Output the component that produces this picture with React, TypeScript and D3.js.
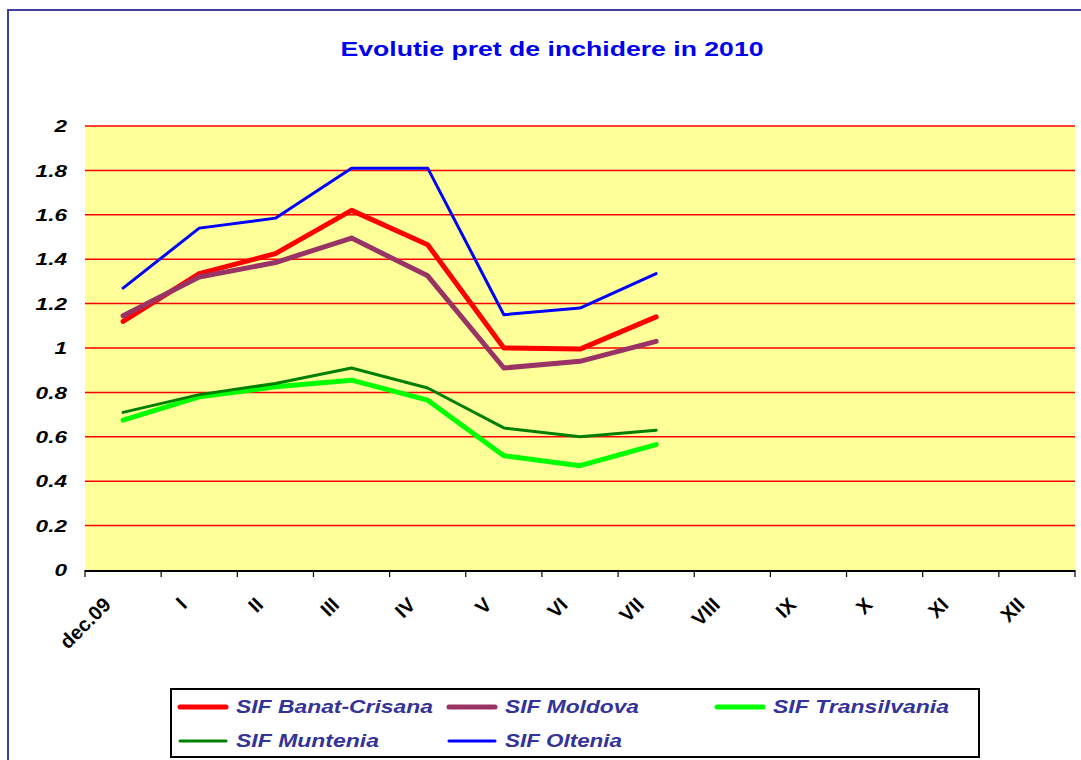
import * as d3 from "d3";
import { useEffect, useRef } from "react";

const months = ["dec.09", "I", "II", "III", "IV", "V", "VI", "VII", "VIII", "IX", "X", "XI", "XII"];
const yTicks = [0, 0.2, 0.4, 0.6, 0.8, 1, 1.2, 1.4, 1.6, 1.8, 2];

const banatCrisana = [1.12, 1.335, 1.425, 1.62, 1.465, 1.0, 0.995, 1.14, null, null, null, null, null];
const moldova = [1.145, 1.32, 1.385, 1.495, 1.325, 0.91, 0.94, 1.03, null, null, null, null, null];
const transilvania = [0.675, 0.78, 0.825, 0.855, 0.765, 0.515, 0.47, 0.565, null, null, null, null, null];
const muntenia = [0.71, 0.79, 0.84, 0.91, 0.82, 0.64, 0.60, 0.63, null, null, null, null, null];
const oltenia = [1.27, 1.54, 1.585, 1.81, 1.81, 1.15, 1.18, 1.335, null, null, null, null, null];

const series = [
    { name: "SIF Banat-Crisana", values: banatCrisana, color: "#ff0000", width: 5, textW: 197 },
    { name: "SIF Moldova", values: moldova, color: "#993366", width: 5, textW: 134 },
    { name: "SIF Transilvania", values: transilvania, color: "#00ff00", width: 5, textW: 176 },
    { name: "SIF Muntenia", values: muntenia, color: "#008000", width: 3, textW: 143 },
    { name: "SIF Oltenia", values: oltenia, color: "#0000ff", width: 3, textW: 117 },
];

export default function App() {
    const ref = useRef<SVGSVGElement>(null);

    useEffect(() => {
        const svg = d3.select(ref.current);
        svg.selectAll("*").remove();

        const width = 1081, height = 760;
        const left = 85, right = 1075, top = 126, bottom = 570;
        const font = "'Liberation Sans', Arial, sans-serif";
        const stretch = 1.33; // the whole picture is widened horizontally

        // frame
        svg.append("rect").attr("width", width).attr("height", height).attr("fill", "#fff");
        svg.append("rect")
            .attr("x", 8).attr("y", 10).attr("width", 1090).attr("height", 770)
            .attr("fill", "#fff").attr("stroke", "#3f3f9f").attr("stroke-width", 2);

        svg.append("text")
            .attr("x", 552).attr("y", 56)
            .attr("text-anchor", "middle")
            .attr("font-family", font).attr("font-weight", "bold").attr("font-size", 21)
            .attr("fill", "#0000ee")
            .attr("textLength", 423).attr("lengthAdjust", "spacingAndGlyphs")
            .text("Evolutie pret de inchidere in 2010");

        const x = d3.scaleBand().domain(months).range([left, right]).padding(0);
        const y = d3.scaleLinear().domain([0, 2]).range([bottom, top]);
        const cx = (m: string) => (x(m) as number) + x.bandwidth() / 2;

        svg.append("rect")
            .attr("x", left).attr("y", top).attr("width", right - left).attr("height", bottom - top)
            .attr("fill", "#ffff99");

        // gridlines
        svg.append("g").selectAll("line")
            .data(yTicks.filter((t) => t > 0))
            .join("line")
            .attr("x1", left).attr("x2", right)
            .attr("y1", (d) => y(d)).attr("y2", (d) => y(d))
            .attr("stroke", "#ff0000").attr("stroke-width", 1.5);

        // y labels
        svg.append("g").selectAll("text")
            .data(yTicks)
            .join("text")
            .attr("transform", (d) => `translate(67,${y(d)}) scale(${stretch},1)`)
            .attr("dy", "0.36em")
            .attr("text-anchor", "end")
            .attr("font-family", font).attr("font-weight", "bold").attr("font-style", "italic")
            .attr("font-size", 17)
            .text((d) => String(d));

        // x axis
        const xAxis = svg.append("g");
        xAxis.append("line")
            .attr("x1", left).attr("x2", right).attr("y1", bottom + 1).attr("y2", bottom + 1)
            .attr("stroke", "#000").attr("stroke-width", 2);
        xAxis.selectAll("line.tick")
            .data([...months.map((m) => x(m) as number), right])
            .join("line")
            .attr("class", "tick")
            .attr("x1", (d) => d).attr("x2", (d) => d)
            .attr("y1", bottom).attr("y2", bottom + 7)
            .attr("stroke", "#000").attr("stroke-width", 1.2);
        xAxis.selectAll("text")
            .data(months)
            .join("text")
            .attr("transform", (d) => `translate(${cx(d) - 11},${bottom + 36}) rotate(-45)`)
            .attr("text-anchor", "end")
            .attr("font-family", font).attr("font-weight", "bold")
            .attr("font-size", 20)
            .text((d) => d);

        // lines
        const line = d3.line<number | null>()
            .defined((d) => d !== null)
            .x((d, i) => cx(months[i]))
            .y((d) => y(d as number));

        svg.append("g").selectAll("path")
            .data(series)
            .join("path")
            .attr("d", (s) => line(s.values))
            .attr("fill", "none")
            .attr("stroke", (s) => s.color)
            .attr("stroke-width", (s) => s.width)
            .attr("stroke-linejoin", "round")
            .attr("stroke-linecap", "round");

        // legend
        const legend = svg.append("g");
        legend.append("rect")
            .attr("x", 171).attr("y", 689).attr("width", 808).attr("height", 68)
            .attr("fill", "#fff").attr("stroke", "#000").attr("stroke-width", 2);
        const pos = [[178, 707], [447, 707], [715, 707], [178, 741], [447, 741]];
        series.forEach((s, i) => {
            const [lx, ly] = pos[i];
            legend.append("line")
                .attr("x1", lx + 2).attr("x2", lx + 48).attr("y1", ly).attr("y2", ly)
                .attr("stroke", s.color).attr("stroke-width", s.width)
                .attr("stroke-linecap", "round");
            legend.append("text")
                .attr("x", lx + 58).attr("y", ly).attr("dy", "0.36em")
                .attr("font-family", font).attr("font-weight", "bold").attr("font-style", "italic")
                .attr("font-size", 18).attr("fill", "#333399")
                .attr("textLength", s.textW).attr("lengthAdjust", "spacingAndGlyphs")
                .text(s.name);
        });
    }, []);

    return (
        <svg ref={ref} width={1081} height={760}
            style={{ position: "absolute", left: 0, top: 0, display: "block" }} />
    );
}
